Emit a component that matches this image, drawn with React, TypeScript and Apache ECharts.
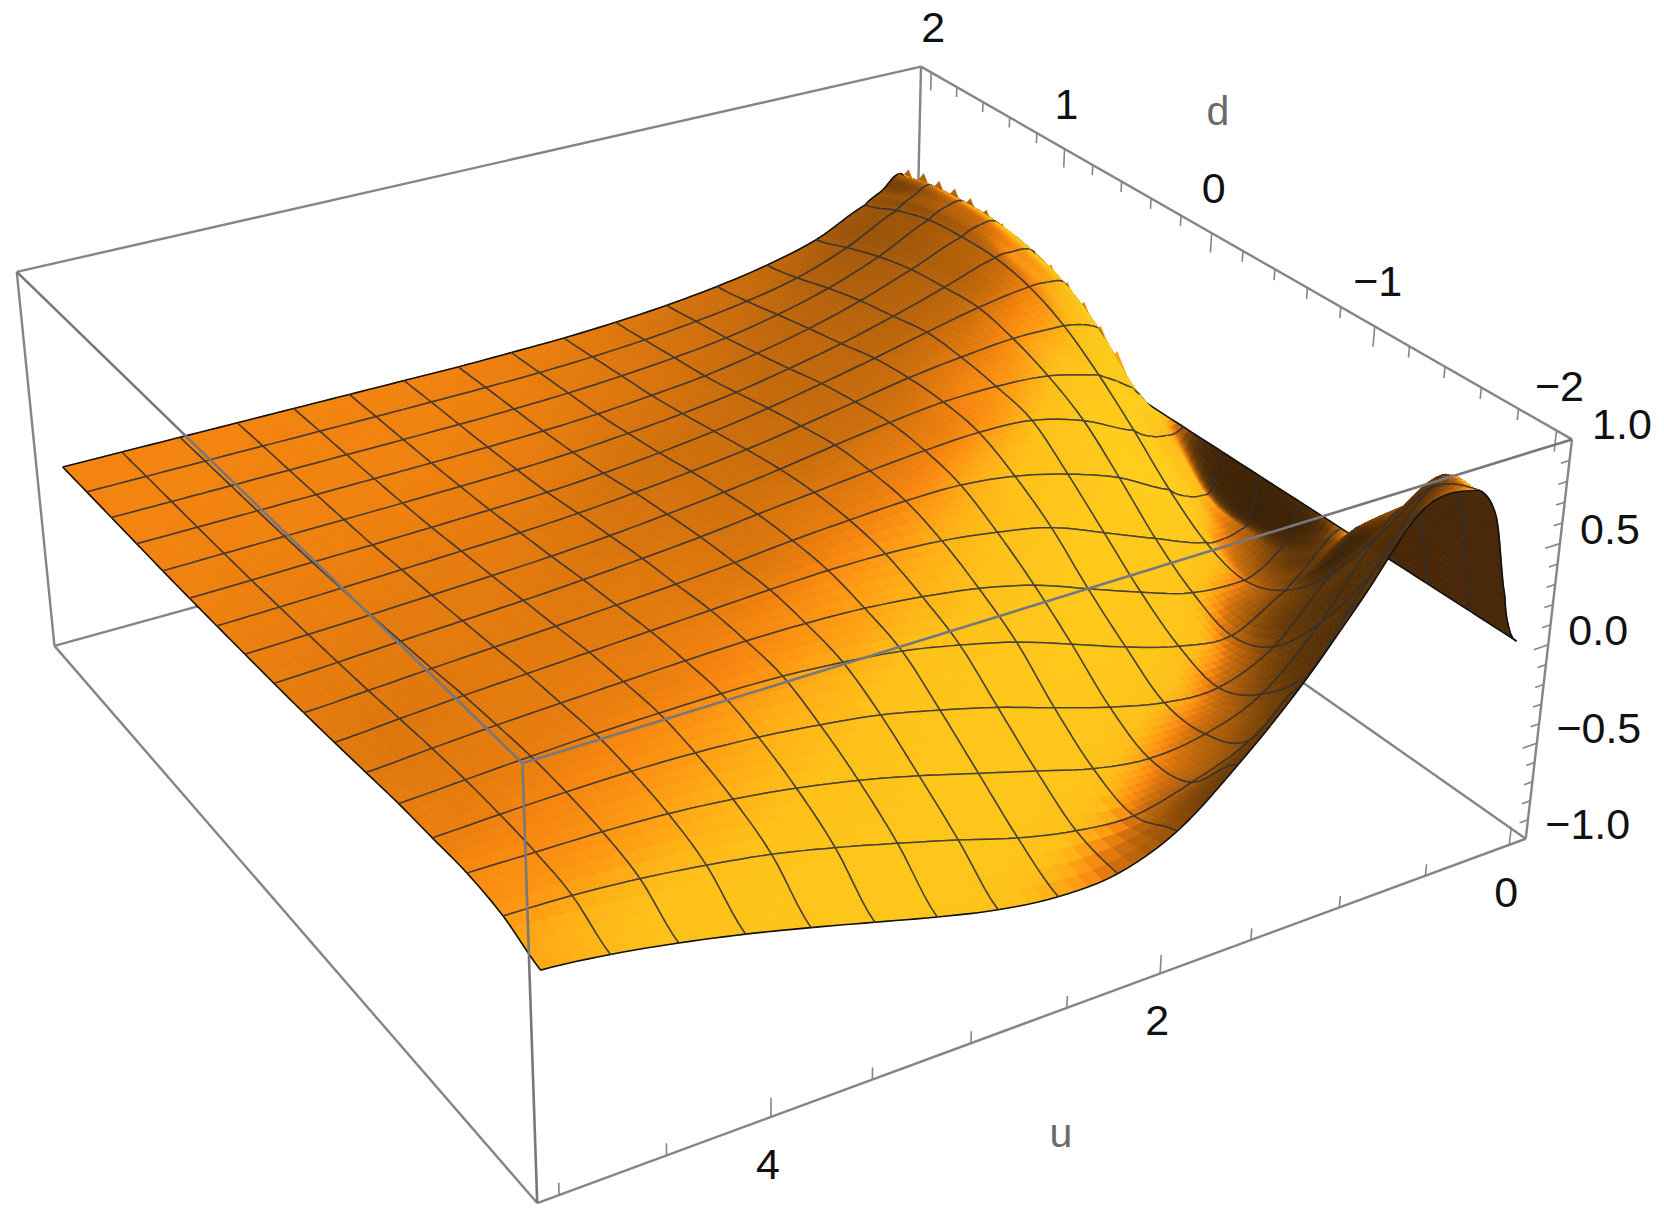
import React, { useEffect, useRef } from "react";
import * as echarts from "echarts";

// u samples (mesh lines 0..15, then extra samples of the narrow ridge, then the u = 0 edge)
const uValues = [5, 4.6875, 4.375, 4.0625, 3.75, 3.4375, 3.125, 2.8125, 2.5, 2.1875, 1.875, 1.5625, 1.25, 0.9375, 0.625, 0.3125, 0.2, 0.1, 0.05, 0];
const dValues = [2, 1.75, 1.5, 1.25, 1, 0.75, 0.5, 0.25, 0, -0.25, -0.5, -0.75, -1, -1.25, -1.5, -1.75, -2];
const heights = [
  [0, 0, 0, 0, 0, 0, 0, 0, 0.005, 0.012, 0.027, 0.05, 0.085, 0.135, 0.21, 0.34, 0.4, 0.47, 0.4, 0],
  [0.002, 0.003, 0.004, 0.005, 0.006, 0.007, 0.009, 0.012, 0.018, 0.03, 0.05, 0.08, 0.12, 0.18, 0.28, 0.42, 0.48, 0.52, 0.42, 0],
  [0.004, 0.005, 0.007, 0.009, 0.011, 0.013, 0.016, 0.022, 0.032, 0.05, 0.075, 0.11, 0.165, 0.24, 0.345, 0.48, 0.53, 0.54, 0.44, 0],
  [0.006, 0.008, 0.011, 0.014, 0.017, 0.02, 0.025, 0.033, 0.047, 0.07, 0.1, 0.148, 0.21, 0.29, 0.39, 0.5, 0.54, 0.54, 0.44, 0],
  [0.008, 0.012, 0.016, 0.02, 0.024, 0.03, 0.037, 0.05, 0.072, 0.1, 0.137, 0.19, 0.25, 0.325, 0.41, 0.5, 0.51, 0.5, 0.42, 0],
  [0.012, 0.017, 0.023, 0.028, 0.035, 0.043, 0.053, 0.072, 0.1, 0.135, 0.18, 0.235, 0.295, 0.36, 0.42, 0.46, 0.46, 0.44, 0.34, 0],
  [0.018, 0.025, 0.033, 0.042, 0.052, 0.063, 0.08, 0.105, 0.135, 0.17, 0.215, 0.265, 0.315, 0.35, 0.375, 0.37, 0.35, 0.31, 0.22, 0],
  [0.025, 0.034, 0.044, 0.056, 0.068, 0.082, 0.103, 0.13, 0.162, 0.2, 0.245, 0.285, 0.315, 0.32, 0.3, 0.23, 0.17, 0.11, 0.06, 0],
  [0.032, 0.045, 0.06, 0.073, 0.087, 0.105, 0.127, 0.152, 0.185, 0.215, 0.245, 0.27, 0.285, 0.27, 0.19, 0.06, 0, -0.02, -0.02, 0],
  [0.042, 0.058, 0.075, 0.09, 0.105, 0.122, 0.14, 0.163, 0.19, 0.21, 0.225, 0.225, 0.19, 0.12, 0.02, -0.125, -0.19, -0.21, -0.19, 0],
  [0.055, 0.075, 0.095, 0.11, 0.125, 0.14, 0.155, 0.17, 0.18, 0.178, 0.16, 0.12, 0.06, -0.05, -0.165, -0.27, -0.28, -0.26, -0.22, 0],
  [0.07, 0.09, 0.107, 0.12, 0.132, 0.143, 0.15, 0.148, 0.135, 0.105, 0.06, -0.01, -0.115, -0.22, -0.31, -0.33, -0.29, -0.22, -0.14, 0],
  [0.085, 0.1, 0.115, 0.127, 0.133, 0.135, 0.128, 0.105, 0.07, 0.01, -0.065, -0.165, -0.27, -0.355, -0.39, -0.24, -0.15, -0.06, -0.02, 0],
  [0.09, 0.1, 0.107, 0.108, 0.1, 0.08, 0.045, 0, -0.07, -0.15, -0.245, -0.335, -0.405, -0.42, -0.3, -0.015, 0.18, 0.16, 0.08, 0],
  [0.095, 0.09, 0.085, 0.07, 0.04, -0.005, -0.065, -0.14, -0.225, -0.31, -0.395, -0.44, -0.41, -0.3, -0.03, 0.33, 0.43, 0.42, 0.27, 0],
  [0.07, 0.06, 0.035, -0.005, -0.055, -0.125, -0.205, -0.29, -0.38, -0.445, -0.47, -0.4, -0.285, -0.04, 0.35, 0.7, 0.72, 0.5, 0.2, 0],
  [0, -0.036, -0.09, -0.155, -0.23, -0.31, -0.39, -0.46, -0.5, -0.49, -0.38, -0.15, 0.13, 0.47, 0.82, 0.82, 0.66, 0.25, 0.07, 0],
];
// the jagged crest seen along the far edge of the surface
const crestD = [1.92, 1.8, 1.68, 1.56, 1.44, 1.32, 1.2, 1.08, 0.96, 0.84, 0.72, 0.6, 0.48, 0.36];
const crestZ = [0.49, 0.52, 0.53, 0.54, 0.54, 0.53, 0.51, 0.49, 0.47, 0.45, 0.41, 0.36, 0.29, 0.21];
const uTickValues = [5, 4.5, 4, 3.5, 3, 2.5, 2, 1.5, 1, 0.5, 0];
const uTickLabels = [4, 2, 0];
const dTickValues = [2, 1.8, 1.6, 1.4, 1.2, 1, 0.8, 0.6, 0.4, 0.2, 0, -0.2, -0.4, -0.6, -0.8, -1, -1.2, -1.4, -1.6, -1.8, -2];
const dTickLabels = [2, 1, 0, -1, -2];
const zTickValues = [1, 0.9, 0.8, 0.7, 0.6, 0.5, 0.4, 0.3, 0.2, 0.1, 0, -0.1, -0.2, -0.3, -0.4, -0.5, -0.6, -0.7, -0.8, -0.9, -1];
const zTickLabels = ["1.0", "0.5", "0.0", "−0.5", "−1.0"];

const U0 = -0.1, U1 = 5.1, D0 = -2.08, D1 = 2.08, Z0 = -1, Z1 = 1;
// camera calibration: box corners and their place on the page
const calib: number[][] = [
  [U1, D1, Z1, 16, 272.5], [U0, D1, Z1, 921.5, 66.7], [U0, D0, Z1, 1572.7, 438], [U1, D0, Z1, 522, 764],
  [U1, D1, Z0, 54, 645], [U0, D1, Z0, 913, 409], [U0, D0, Z0, 1526, 838.5], [U1, D0, Z0, 537.8, 1205],
  [5, 2, 0, 63.6, 467.5], [5, -2, 0, 541, 967], [0, -2, 0, 1515, 643],
];

function solveCamera(): number[] {
  const rows: number[][] = [], rhs: number[] = [];
  for (const [u, d, z, x0, y0] of calib) {
    const X = u / 5, Y = d / 2, Z = z, x = x0 / 1000, y = y0 / 1000;
    rows.push([X, Y, Z, 1, 0, 0, 0, 0, -x * X, -x * Y, -x * Z]); rhs.push(x);
    rows.push([0, 0, 0, 0, X, Y, Z, 1, -y * X, -y * Y, -y * Z]); rhs.push(y);
  }
  const n = 11;
  const M: number[][] = [];
  for (let a = 0; a < n; a++) {
    const row = new Array(n + 1).fill(0);
    for (let b = 0; b < n; b++) for (let k = 0; k < rows.length; k++) row[b] += rows[k][a] * rows[k][b];
    for (let k = 0; k < rows.length; k++) row[n] += rows[k][a] * rhs[k];
    M.push(row);
  }
  for (let a = 0; a < n; a++) {
    let piv = a;
    for (let k = a + 1; k < n; k++) if (Math.abs(M[k][a]) > Math.abs(M[piv][a])) piv = k;
    [M[a], M[piv]] = [M[piv], M[a]];
    for (let k = 0; k < n; k++) {
      if (k === a) continue;
      const f = M[k][a] / M[a][a];
      for (let q = a; q <= n; q++) M[k][q] -= f * M[a][q];
    }
  }
  return M.map((r, i) => r[n] / r[i]);
}
const cam = solveCamera();
function project(u: number, d: number, z: number): [number, number] {
  const X = u / 5, Y = d / 2, Z = z;
  const w = cam[8] * X + cam[9] * Y + cam[10] * Z + 1;
  return [(1000 * (cam[0] * X + cam[1] * Y + cam[2] * Z + cam[3])) / w, (1000 * (cam[4] * X + cam[5] * Y + cam[6] * Z + cam[7])) / w];
}

const clampI = (v: number, hi: number) => Math.max(0, Math.min(hi, v));
const cr = (a: number, b: number, c: number, e: number, t: number) =>
  0.5 * (2 * b + (c - a) * t + (2 * a - 5 * b + 4 * c - e) * t * t + (3 * b - a - 3 * c + e) * t * t * t);
const nC = uValues.length - 1, nR = dValues.length - 1;
function zAt(c: number, r: number): number {
  const ci = Math.min(Math.floor(c), nC - 1), ri = Math.min(Math.floor(r), nR - 1);
  const tc = c - ci, tr = r - ri;
  const vals: number[] = [];
  for (let k = -1; k <= 2; k++) {
    const row = heights[clampI(ri + k, nR)];
    vals.push(cr(row[clampI(ci - 1, nC)], row[ci], row[ci + 1], row[clampI(ci + 2, nC)], tc));
  }
  return cr(vals[0], vals[1], vals[2], vals[3], tr);
}
function uAt(c: number): number {
  const ci = Math.min(Math.floor(c), nC - 1);
  return uValues[ci] + (uValues[ci + 1] - uValues[ci]) * (c - ci);
}
const dAt = (r: number) => {
  const ri = Math.min(Math.floor(r), nR - 1);
  return dValues[ri] + (dValues[ri + 1] - dValues[ri]) * (r - ri);
};
const pt = (c: number, r: number) => project(uAt(c), dAt(r), zAt(c, r));

const ramp: [number, number[]][] = [
  [-1, [58, 33, 6]], [-0.85, [88, 50, 8]], [-0.65, [130, 71, 8]], [-0.45, [165, 90, 10]], [-0.3, [185, 100, 11]],
  [-0.15, [208, 112, 12]], [-0.05, [232, 125, 14]], [0, [245, 133, 15]], [0.08, [253, 150, 18]], [0.2, [255, 176, 22]],
  [0.3, [254, 192, 25]], [0.6, [255, 205, 28]],
];
function rampColor(L: number): string {
  if (L <= ramp[0][0]) return `rgb(${ramp[0][1].join(",")})`;
  for (let i = 1; i < ramp.length; i++) {
    if (L <= ramp[i][0]) {
      const t = (L - ramp[i - 1][0]) / (ramp[i][0] - ramp[i - 1][0]);
      const a = ramp[i - 1][1], b = ramp[i][1];
      return `rgb(${a.map((v, k) => Math.round(v + (b[k] - v) * t)).join(",")})`;
    }
  }
  return `rgb(${ramp[ramp.length - 1][1].join(",")})`;
}
function shade(c: number, r: number, area: number): string {
  if (area < 0) return "rgb(72,40,8)";
  const e = 0.3;
  const c0 = Math.max(0, c - e), c1 = Math.min(nC, c + e), r0 = Math.max(0, r - e), r1 = Math.min(nR, r + e);
  const dzdu = (zAt(c1, r) - zAt(c0, r)) / (uAt(c1) - uAt(c0));
  const dzdd = (zAt(c, r1) - zAt(c, r0)) / (dAt(r1) - dAt(r0));
  const a = 1.04 * dzdu, b = 0.83 * dzdd;
  const len = Math.sqrt(a * a + b * b + 1);
  return rampColor(a / len + (0.4 * b) / len);
}

// cells listed far to near, so later ones paint over earlier ones
const cells: number[][] = [];
for (let c = nC - 1; c >= 0; c--) for (let r = 0; r < nR; r++) cells.push([c, r]);
const MESH = "rgba(48,48,50,0.85)";
const EDGE = "#111";

const P1 = (u: number, d: number, z: number) => [u, d, z];
const backSegs: number[][][] = [
  [P1(U1, D1, Z1), P1(U0, D1, Z1)], [P1(U0, D1, Z1), P1(U0, D0, Z1)], [P1(U0, D1, Z1), P1(U0, D1, Z0)],
  [P1(U1, D1, Z0), P1(U0, D1, Z0)], [P1(U0, D0, Z0), P1(U0, D1, Z0)], [P1(U1, D1, Z1), P1(U1, D1, Z0)],
  [P1(U0, D0, Z1), P1(U0, D0, Z0)], [P1(U1, D0, Z0), P1(U1, D1, Z0)], [P1(U1, D0, Z0), P1(U0, D0, Z0)],
];
const frontSegs: number[][][] = [
  [P1(U1, D1, Z1), P1(U1, D0, Z1)], [P1(U1, D0, Z1), P1(U0, D0, Z1)], [P1(U1, D0, Z1), P1(U1, D0, Z0)],
];
const tickSegs: number[][][] = [
  ...uTickValues.map((u) => [P1(u, D0, Z0), P1(u, D0, Z0 + (u === 0 || u === 2 || u === 4 ? 0.095 : 0.06))]),
  ...dTickValues.map((d) => [P1(U0, d, Z1), P1(U0, d, Z1 - (Number.isInteger(d) ? 0.1 : 0.055))]),
  ...zTickValues.map((z) => [P1(U0, D0, z), P1(U0 + (Math.abs(z * 2 - Math.round(z * 2)) < 1e-6 ? 0.085 : 0.05), D0, z)]),
];

function lineSeries(segs: number[][][], width: number, z: number, color: string) {
  return {
    type: "custom", coordinateSystem: "cartesian2d", silent: true, z, clip: false,
    data: segs.map((_, i) => [i]),
    renderItem: (p: any, api: any) => {
      const s = segs[p.dataIndex];
      const a = api.coord(project(s[0][0], s[0][1], s[0][2]));
      const b = api.coord(project(s[1][0], s[1][1], s[1][2]));
      return { type: "line", shape: { x1: a[0], y1: a[1], x2: b[0], y2: b[1] }, style: { stroke: color, lineWidth: width, fill: null } };
    },
  };
}

function crestSeries() {
  return {
    type: "custom", coordinateSystem: "cartesian2d", silent: true, z: 2, clip: false,
    data: crestD.map((_, i) => [i]),
    renderItem: (p: any, api: any) => {
      const d = crestD[p.dataIndex], z = crestZ[p.dataIndex];
      const f = d >= 1 ? "rgb(178,97,12)" : d >= 0.6 ? "rgb(228,122,15)" : "rgb(255,165,20)";
      const pts = [project(0.1, d + 0.07, z - 0.05), project(0.1, d, z + 0.04), project(0.1, d - 0.07, z - 0.05), project(0.25, d, z - 0.1)];
      return { type: "polygon", shape: { points: pts.map((q) => api.coord(q)) }, style: { fill: f, stroke: f, lineWidth: 0.5 } };
    },
  };
}

function surfaceSeries() {
  return {
    type: "custom", coordinateSystem: "cartesian2d", silent: true, z: 2, clip: false,
    data: cells,
    renderItem: (p: any, api: any) => {
      const [c, r] = cells[p.dataIndex];
      const children: any[] = [];
      const co = (q: [number, number]) => api.coord(q);
      const SUB = c >= 10 ? 7 : 4;
      for (let a = SUB - 1; a >= 0; a--) {
        for (let b = 0; b < SUB; b++) {
          const c0 = c + a / SUB, c1 = c + (a + 1) / SUB, r0 = r + b / SUB, r1 = r + (b + 1) / SUB;
          const q = [pt(c0, r0), pt(c1, r0), pt(c1, r1), pt(c0, r1)];
          let area = 0;
          for (let k = 0; k < 4; k++) {
            const m = q[k], n = q[(k + 1) % 4];
            area += m[0] * n[1] - n[0] * m[1];
          }
          const fill = shade((c0 + c1) / 2, (r0 + r1) / 2, area);
          children.push({ type: "polygon", shape: { points: q.map(co) }, style: { fill, stroke: fill, lineWidth: 0.8 } });
        }
      }
      const N = 6;
      const vLine = (cc: number) => {
        const pts: any[] = [];
        for (let k = 0; k <= N; k++) pts.push(co(pt(cc, r + k / N)));
        const edge = cc === 0 || cc === nC;
        children.push({ type: "polyline", shape: { points: pts }, style: { stroke: edge ? EDGE : MESH, lineWidth: edge ? 1.6 : 1.5, fill: null } });
      };
      const hLine = (rr: number) => {
        const pts: any[] = [];
        for (let k = 0; k <= N; k++) pts.push(co(pt(c + k / N, rr)));
        const edge = rr === 0 || rr === nR;
        children.push({ type: "polyline", shape: { points: pts }, style: { stroke: edge ? EDGE : MESH, lineWidth: edge ? 1.6 : 1.5, fill: null } });
      };
      if (c <= 15) vLine(c);
      if (c + 1 <= 15 || c + 1 === nC) vLine(c + 1);
      hLine(r);
      hLine(r + 1);
      return { type: "group", children };
    },
  };
}

function labelElements() {
  const font = '43px "Liberation Sans", Arial, sans-serif';
  const axisFont = '41px "Liberation Sans", Arial, sans-serif';
  const out: any[] = [];
  const add = (text: string, x: number, y: number, f: string, fill: string) =>
    out.push({ type: "text", x, y, silent: true, z: 10, style: { text, x: 0, y: 0, font: f, fill, textAlign: "center", textVerticalAlign: "middle" } });
  uTickLabels.forEach((u) => {
    const [x, y] = project(u, D0, Z0);
    add(String(u), x - 3, y + 47, font, "#111");
  });
  dTickLabels.forEach((d) => {
    const q = project(U0, d, Z1);
    add(d < 0 ? "−" + Math.abs(d) : String(d), q[0] + (d < 0 ? 3 : 2), q[1] - 45, font, "#111");
  });
  zTickLabels.forEach((t) => {
    const z = parseFloat(t.replace("−", "-"));
    const q = project(U0, D0, z);
    add(t, q[0] + (z < 0 ? 62 : 50), q[1] - 15, font, "#111");
  });
  add("u", 1061, 1133, axisFont, "#6b6b6b");
  add("d", 1218, 111, axisFont, "#6b6b6b");
  return out;
}

export default function App() {
  const ref = useRef<HTMLDivElement>(null);
  useEffect(() => {
    const chart = echarts.init(ref.current!, undefined, { renderer: "svg" });
    chart.setOption({
      animation: false,
      backgroundColor: "#ffffff",
      grid: { left: 0, right: 0, top: 0, bottom: 0, containLabel: false },
      xAxis: { type: "value", min: 0, max: 1664, show: false },
      yAxis: { type: "value", min: 0, max: 1220, inverse: true, show: false },
      graphic: { elements: labelElements() },
      series: [
        lineSeries(backSegs, 2.4, 1, "#858585"),
        lineSeries(tickSegs, 1.6, 1, "#858585"),
        crestSeries(),
        surfaceSeries(),
        lineSeries(frontSegs, 2.6, 3, "#77777c"),
      ],
    });
    return () => chart.dispose();
  }, []);
  return <div ref={ref} style={{ position: "absolute", left: 0, top: 0, width: 1664, height: 1220 }} />;
}
